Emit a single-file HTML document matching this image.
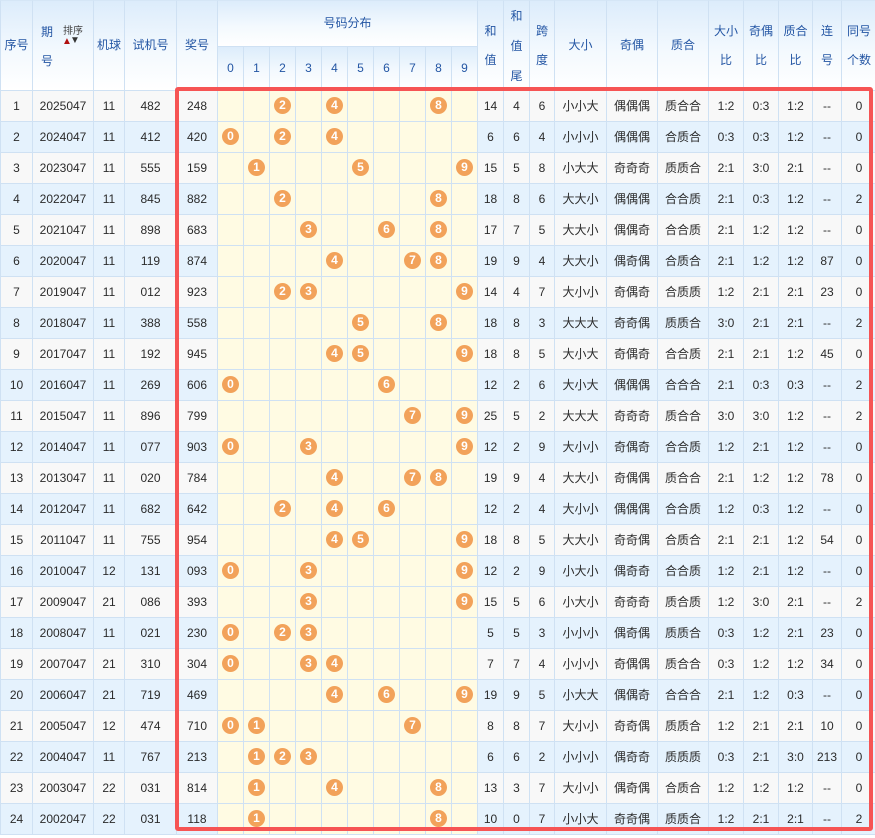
<!DOCTYPE html>
<html><head><meta charset="utf-8"><style>
html,body{margin:0;padding:0;background:#fff;}
body{width:875px;height:838px;overflow:hidden;position:relative;font-family:"Liberation Sans","Noto Sans CJK SC",sans-serif;font-size:12px;color:#2b2b2b;}
#h{position:absolute;left:0;top:0;width:877px;height:91px;}
#h div{position:absolute;box-sizing:border-box;border-right:1px solid #cfe1f3;border-bottom:1px solid #cfe1f3;background:linear-gradient(to bottom,#dcecfb 0%,#f3f9fe 55%,#ffffff 100%);color:#2456a4;text-align:center;display:flex;align-items:center;justify-content:center;line-height:29px;}
#h div.t{border-top:1px solid #d5e6f6;}
#b{position:absolute;left:0;top:91px;width:877px;}
.r{display:flex;height:31px;border-left:1px solid #cfe1f3;background:#f8f8f8;}
.r:nth-child(even){background:#e5f2fd;}
.r>*{box-sizing:border-box;flex:none;height:31px;border-right:1px solid #cfe1f3;border-bottom:1px solid #cfe1f3;text-align:center;line-height:31px;font-style:normal;}
.r>*:nth-child(1){width:32px}
.r>*:nth-child(2){width:61px}
.r>*:nth-child(3){width:31px}
.r>*:nth-child(4){width:52px}
.r>*:nth-child(5){width:41px}
.r>i{width:26px;background:#fffbe3;}
.r>*:nth-child(16){width:26px}
.r>*:nth-child(17){width:26px}
.r>*:nth-child(18){width:25px}
.r>*:nth-child(19){width:52px}
.r>*:nth-child(20){width:51px}
.r>*:nth-child(21){width:51px}
.r>*:nth-child(22){width:35px}
.r>*:nth-child(23){width:35px}
.r>*:nth-child(24){width:34px}
.r>*:nth-child(25){width:29px}
.r>*:nth-child(26){width:35px}
.r b{display:inline-block;width:17px;height:17px;border-radius:50%;background:#f2a25a;color:#fff;font-size:12px;font-weight:bold;line-height:17px;vertical-align:middle;margin-top:-3px;}
#red{position:absolute;left:175px;top:87px;width:698px;height:744px;box-sizing:border-box;border:4px solid #f65454;border-radius:3px;}
.qh{position:absolute;}
</style></head><body>
<div id="h">
<div class="t" style="left:0;top:0;width:33px;height:91px;border-left:1px solid #cfe1f3;">序号</div>
<div class="t" style="left:33px;top:0;width:61px;height:91px;display:block;">
 <span class="qh" style="left:8px;top:17px;">期</span>
 <span class="qh" style="left:8px;top:46px;">号</span>
 <span class="qh" style="left:30px;top:24px;font-size:10px;line-height:14px;color:#444;">排序</span>
 <span class="qh" style="left:29px;top:36px;font-size:10px;line-height:10px;color:#b01010;">▲</span>
 <span class="qh" style="left:37px;top:35px;font-size:10px;line-height:10px;color:#333;">▼</span>
</div>
<div class="t" style="left:94px;top:0;width:31px;height:91px;">机球</div>
<div class="t" style="left:125px;top:0;width:52px;height:91px;">试机号</div>
<div class="t" style="left:177px;top:0;width:41px;height:91px;">奖号</div>
<div class="t" style="left:218px;top:0;width:260px;height:47px;">号码分布</div>
<div style="left:218px;top:47px;width:26px;height:44px;">0</div>
<div style="left:244px;top:47px;width:26px;height:44px;">1</div>
<div style="left:270px;top:47px;width:26px;height:44px;">2</div>
<div style="left:296px;top:47px;width:26px;height:44px;">3</div>
<div style="left:322px;top:47px;width:26px;height:44px;">4</div>
<div style="left:348px;top:47px;width:26px;height:44px;">5</div>
<div style="left:374px;top:47px;width:26px;height:44px;">6</div>
<div style="left:400px;top:47px;width:26px;height:44px;">7</div>
<div style="left:426px;top:47px;width:26px;height:44px;">8</div>
<div style="left:452px;top:47px;width:26px;height:44px;">9</div>
<div class="t" style="left:478px;top:0;width:26px;height:91px;">和<br>值</div>
<div class="t" style="left:504px;top:0;width:26px;height:91px;line-height:30px;">和<br>值<br>尾</div>
<div class="t" style="left:530px;top:0;width:25px;height:91px;">跨<br>度</div>
<div class="t" style="left:555px;top:0;width:52px;height:91px;">大小</div>
<div class="t" style="left:607px;top:0;width:51px;height:91px;">奇偶</div>
<div class="t" style="left:658px;top:0;width:51px;height:91px;">质合</div>
<div class="t" style="left:709px;top:0;width:35px;height:91px;">大小<br>比</div>
<div class="t" style="left:744px;top:0;width:35px;height:91px;">奇偶<br>比</div>
<div class="t" style="left:779px;top:0;width:34px;height:91px;">质合<br>比</div>
<div class="t" style="left:813px;top:0;width:29px;height:91px;">连<br>号</div>
<div class="t" style="left:842px;top:0;width:35px;height:91px;">同号<br>个数</div>
</div>
<div id="b">
<div class="r"><span>1</span><span>2025047</span><span>11</span><span>482</span><span>248</span><i></i><i></i><i><b>2</b></i><i></i><i><b>4</b></i><i></i><i></i><i></i><i><b>8</b></i><i></i><span>14</span><span>4</span><span>6</span><span>小小大</span><span>偶偶偶</span><span>质合合</span><span>1:2</span><span>0:3</span><span>1:2</span><span>--</span><span>0</span></div>
<div class="r"><span>2</span><span>2024047</span><span>11</span><span>412</span><span>420</span><i><b>0</b></i><i></i><i><b>2</b></i><i></i><i><b>4</b></i><i></i><i></i><i></i><i></i><i></i><span>6</span><span>6</span><span>4</span><span>小小小</span><span>偶偶偶</span><span>合质合</span><span>0:3</span><span>0:3</span><span>1:2</span><span>--</span><span>0</span></div>
<div class="r"><span>3</span><span>2023047</span><span>11</span><span>555</span><span>159</span><i></i><i><b>1</b></i><i></i><i></i><i></i><i><b>5</b></i><i></i><i></i><i></i><i><b>9</b></i><span>15</span><span>5</span><span>8</span><span>小大大</span><span>奇奇奇</span><span>质质合</span><span>2:1</span><span>3:0</span><span>2:1</span><span>--</span><span>0</span></div>
<div class="r"><span>4</span><span>2022047</span><span>11</span><span>845</span><span>882</span><i></i><i></i><i><b>2</b></i><i></i><i></i><i></i><i></i><i></i><i><b>8</b></i><i></i><span>18</span><span>8</span><span>6</span><span>大大小</span><span>偶偶偶</span><span>合合质</span><span>2:1</span><span>0:3</span><span>1:2</span><span>--</span><span>2</span></div>
<div class="r"><span>5</span><span>2021047</span><span>11</span><span>898</span><span>683</span><i></i><i></i><i></i><i><b>3</b></i><i></i><i></i><i><b>6</b></i><i></i><i><b>8</b></i><i></i><span>17</span><span>7</span><span>5</span><span>大大小</span><span>偶偶奇</span><span>合合质</span><span>2:1</span><span>1:2</span><span>1:2</span><span>--</span><span>0</span></div>
<div class="r"><span>6</span><span>2020047</span><span>11</span><span>119</span><span>874</span><i></i><i></i><i></i><i></i><i><b>4</b></i><i></i><i></i><i><b>7</b></i><i><b>8</b></i><i></i><span>19</span><span>9</span><span>4</span><span>大大小</span><span>偶奇偶</span><span>合质合</span><span>2:1</span><span>1:2</span><span>1:2</span><span>87</span><span>0</span></div>
<div class="r"><span>7</span><span>2019047</span><span>11</span><span>012</span><span>923</span><i></i><i></i><i><b>2</b></i><i><b>3</b></i><i></i><i></i><i></i><i></i><i></i><i><b>9</b></i><span>14</span><span>4</span><span>7</span><span>大小小</span><span>奇偶奇</span><span>合质质</span><span>1:2</span><span>2:1</span><span>2:1</span><span>23</span><span>0</span></div>
<div class="r"><span>8</span><span>2018047</span><span>11</span><span>388</span><span>558</span><i></i><i></i><i></i><i></i><i></i><i><b>5</b></i><i></i><i></i><i><b>8</b></i><i></i><span>18</span><span>8</span><span>3</span><span>大大大</span><span>奇奇偶</span><span>质质合</span><span>3:0</span><span>2:1</span><span>2:1</span><span>--</span><span>2</span></div>
<div class="r"><span>9</span><span>2017047</span><span>11</span><span>192</span><span>945</span><i></i><i></i><i></i><i></i><i><b>4</b></i><i><b>5</b></i><i></i><i></i><i></i><i><b>9</b></i><span>18</span><span>8</span><span>5</span><span>大小大</span><span>奇偶奇</span><span>合合质</span><span>2:1</span><span>2:1</span><span>1:2</span><span>45</span><span>0</span></div>
<div class="r"><span>10</span><span>2016047</span><span>11</span><span>269</span><span>606</span><i><b>0</b></i><i></i><i></i><i></i><i></i><i></i><i><b>6</b></i><i></i><i></i><i></i><span>12</span><span>2</span><span>6</span><span>大小大</span><span>偶偶偶</span><span>合合合</span><span>2:1</span><span>0:3</span><span>0:3</span><span>--</span><span>2</span></div>
<div class="r"><span>11</span><span>2015047</span><span>11</span><span>896</span><span>799</span><i></i><i></i><i></i><i></i><i></i><i></i><i></i><i><b>7</b></i><i></i><i><b>9</b></i><span>25</span><span>5</span><span>2</span><span>大大大</span><span>奇奇奇</span><span>质合合</span><span>3:0</span><span>3:0</span><span>1:2</span><span>--</span><span>2</span></div>
<div class="r"><span>12</span><span>2014047</span><span>11</span><span>077</span><span>903</span><i><b>0</b></i><i></i><i></i><i><b>3</b></i><i></i><i></i><i></i><i></i><i></i><i><b>9</b></i><span>12</span><span>2</span><span>9</span><span>大小小</span><span>奇偶奇</span><span>合合质</span><span>1:2</span><span>2:1</span><span>1:2</span><span>--</span><span>0</span></div>
<div class="r"><span>13</span><span>2013047</span><span>11</span><span>020</span><span>784</span><i></i><i></i><i></i><i></i><i><b>4</b></i><i></i><i></i><i><b>7</b></i><i><b>8</b></i><i></i><span>19</span><span>9</span><span>4</span><span>大大小</span><span>奇偶偶</span><span>质合合</span><span>2:1</span><span>1:2</span><span>1:2</span><span>78</span><span>0</span></div>
<div class="r"><span>14</span><span>2012047</span><span>11</span><span>682</span><span>642</span><i></i><i></i><i><b>2</b></i><i></i><i><b>4</b></i><i></i><i><b>6</b></i><i></i><i></i><i></i><span>12</span><span>2</span><span>4</span><span>大小小</span><span>偶偶偶</span><span>合合质</span><span>1:2</span><span>0:3</span><span>1:2</span><span>--</span><span>0</span></div>
<div class="r"><span>15</span><span>2011047</span><span>11</span><span>755</span><span>954</span><i></i><i></i><i></i><i></i><i><b>4</b></i><i><b>5</b></i><i></i><i></i><i></i><i><b>9</b></i><span>18</span><span>8</span><span>5</span><span>大大小</span><span>奇奇偶</span><span>合质合</span><span>2:1</span><span>2:1</span><span>1:2</span><span>54</span><span>0</span></div>
<div class="r"><span>16</span><span>2010047</span><span>12</span><span>131</span><span>093</span><i><b>0</b></i><i></i><i></i><i><b>3</b></i><i></i><i></i><i></i><i></i><i></i><i><b>9</b></i><span>12</span><span>2</span><span>9</span><span>小大小</span><span>偶奇奇</span><span>合合质</span><span>1:2</span><span>2:1</span><span>1:2</span><span>--</span><span>0</span></div>
<div class="r"><span>17</span><span>2009047</span><span>21</span><span>086</span><span>393</span><i></i><i></i><i></i><i><b>3</b></i><i></i><i></i><i></i><i></i><i></i><i><b>9</b></i><span>15</span><span>5</span><span>6</span><span>小大小</span><span>奇奇奇</span><span>质合质</span><span>1:2</span><span>3:0</span><span>2:1</span><span>--</span><span>2</span></div>
<div class="r"><span>18</span><span>2008047</span><span>11</span><span>021</span><span>230</span><i><b>0</b></i><i></i><i><b>2</b></i><i><b>3</b></i><i></i><i></i><i></i><i></i><i></i><i></i><span>5</span><span>5</span><span>3</span><span>小小小</span><span>偶奇偶</span><span>质质合</span><span>0:3</span><span>1:2</span><span>2:1</span><span>23</span><span>0</span></div>
<div class="r"><span>19</span><span>2007047</span><span>21</span><span>310</span><span>304</span><i><b>0</b></i><i></i><i></i><i><b>3</b></i><i><b>4</b></i><i></i><i></i><i></i><i></i><i></i><span>7</span><span>7</span><span>4</span><span>小小小</span><span>奇偶偶</span><span>质合合</span><span>0:3</span><span>1:2</span><span>1:2</span><span>34</span><span>0</span></div>
<div class="r"><span>20</span><span>2006047</span><span>21</span><span>719</span><span>469</span><i></i><i></i><i></i><i></i><i><b>4</b></i><i></i><i><b>6</b></i><i></i><i></i><i><b>9</b></i><span>19</span><span>9</span><span>5</span><span>小大大</span><span>偶偶奇</span><span>合合合</span><span>2:1</span><span>1:2</span><span>0:3</span><span>--</span><span>0</span></div>
<div class="r"><span>21</span><span>2005047</span><span>12</span><span>474</span><span>710</span><i><b>0</b></i><i><b>1</b></i><i></i><i></i><i></i><i></i><i></i><i><b>7</b></i><i></i><i></i><span>8</span><span>8</span><span>7</span><span>大小小</span><span>奇奇偶</span><span>质质合</span><span>1:2</span><span>2:1</span><span>2:1</span><span>10</span><span>0</span></div>
<div class="r"><span>22</span><span>2004047</span><span>11</span><span>767</span><span>213</span><i></i><i><b>1</b></i><i><b>2</b></i><i><b>3</b></i><i></i><i></i><i></i><i></i><i></i><i></i><span>6</span><span>6</span><span>2</span><span>小小小</span><span>偶奇奇</span><span>质质质</span><span>0:3</span><span>2:1</span><span>3:0</span><span>213</span><span>0</span></div>
<div class="r"><span>23</span><span>2003047</span><span>22</span><span>031</span><span>814</span><i></i><i><b>1</b></i><i></i><i></i><i><b>4</b></i><i></i><i></i><i></i><i><b>8</b></i><i></i><span>13</span><span>3</span><span>7</span><span>大小小</span><span>偶奇偶</span><span>合质合</span><span>1:2</span><span>1:2</span><span>1:2</span><span>--</span><span>0</span></div>
<div class="r"><span>24</span><span>2002047</span><span>22</span><span>031</span><span>118</span><i></i><i><b>1</b></i><i></i><i></i><i></i><i></i><i></i><i></i><i><b>8</b></i><i></i><span>10</span><span>0</span><span>7</span><span>小小大</span><span>奇奇偶</span><span>质质合</span><span>1:2</span><span>2:1</span><span>2:1</span><span>--</span><span>2</span></div>
</div>
<div id="red"></div>
</body></html>
